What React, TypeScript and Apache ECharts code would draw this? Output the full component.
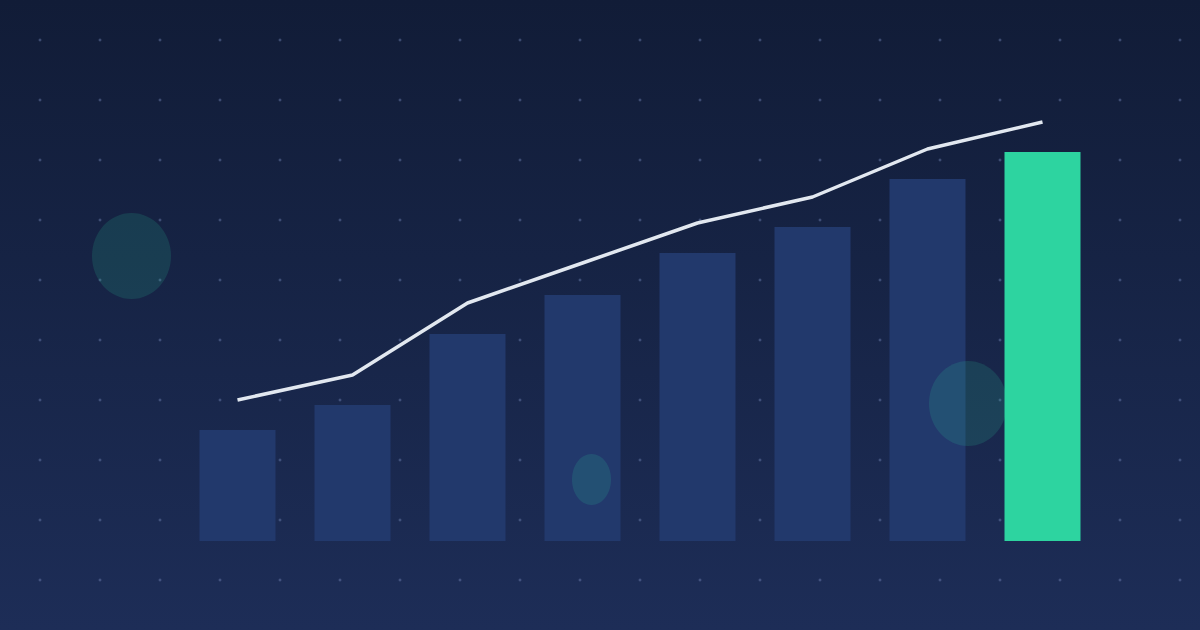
import React, { useEffect, useRef } from "react";
import * as echarts from "echarts";

const categories = ["P1", "P2", "P3", "P4", "P5", "P6", "P7", "P8"];
const barValues = [111, 136, 207, 246, 288, 314, 362, 389];
const lineValues = [141, 166, 238, 278, 318, 344, 392, 419];
const highlightIndex = 7;

const BAR_COLOR = "#22396c";
const HIGHLIGHT_COLOR = "#2dd4a0";
const LINE_COLOR = "#e2e8f0";

export default function App() {
  const ref = useRef<HTMLDivElement>(null);

  useEffect(() => {
    document.body.style.margin = "0";
    if (!ref.current) return;
    const chart = echarts.init(ref.current, null, { renderer: "svg" });

    const dots: any[] = [];
    for (let x = 40; x < 1200; x += 60) {
      for (let y = 40; y < 630; y += 60) {
        dots.push({
          type: "rect",
          shape: { x: x - 1.5, y: y - 0.5, width: 3, height: 1 },
          style: { fill: "rgba(110,130,175,0.55)" },
          silent: true,
        });
        dots.push({
          type: "rect",
          shape: { x: x - 0.5, y: y - 1.5, width: 1, height: 3 },
          style: { fill: "rgba(110,130,175,0.55)" },
          silent: true,
        });
      }
    }

    const circleFill = "rgba(45,212,160,0.15)";
    const circles = [
      { cx: 131.5, cy: 256, rx: 39.5, ry: 43 },
      { cx: 591.5, cy: 479.5, rx: 19.5, ry: 25.5 },
      { cx: 968, cy: 403.5, rx: 39, ry: 42.5 },
    ].map((c) => ({
      type: "ellipse",
      shape: c,
      style: { fill: circleFill },
      z: 10,
      silent: true,
    }));

    chart.setOption({
      animation: false,
      backgroundColor: "transparent",
      grid: { left: 180, top: 41, width: 920, height: 500, containLabel: false },
      xAxis: {
        type: "category",
        data: categories,
        show: false,
        boundaryGap: true,
      },
      yAxis: { type: "value", min: 0, max: 500, show: false },
      graphic: [
        { type: "group", z: 0, children: dots, silent: true },
        ...circles,
      ],
      series: [
        {
          type: "bar",
          barWidth: 76,
          data: barValues.map((v, i) => ({
            value: v,
            itemStyle: { color: i === highlightIndex ? HIGHLIGHT_COLOR : BAR_COLOR },
          })),
          z: 2,
        },
        {
          type: "line",
          data: lineValues,
          showSymbol: false,
          symbol: "none",
          lineStyle: { color: LINE_COLOR, width: 3.5 },
          z: 3,
        },
      ],
    });

    return () => chart.dispose();
  }, []);

  return (
    <div
      ref={ref}
      style={{
        width: 1200,
        height: 630,
        background: "linear-gradient(180deg, #111c37 0%, #1d2d57 100%)",
      }}
    />
  );
}
